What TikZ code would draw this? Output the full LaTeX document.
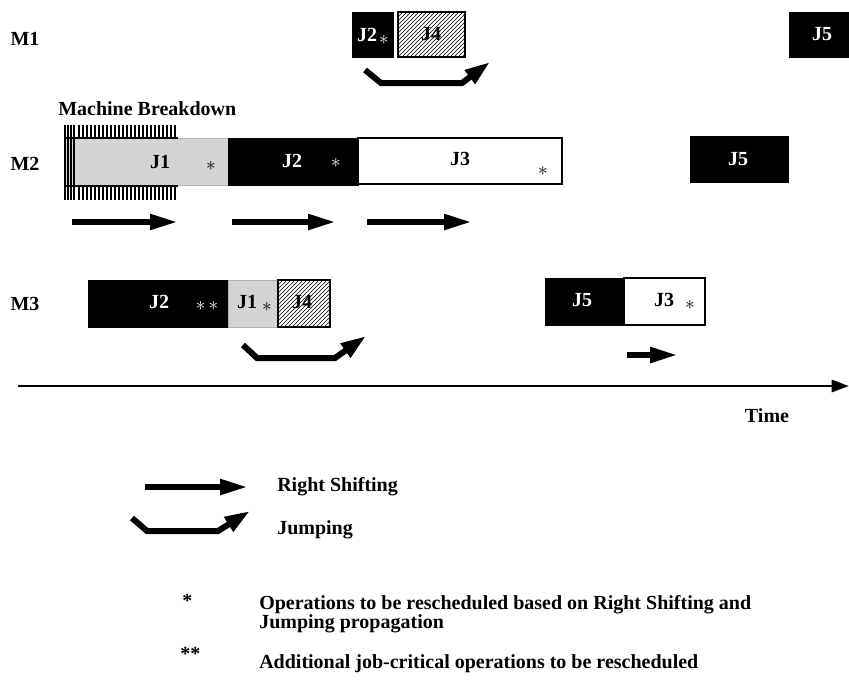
\documentclass[tikz,border=0pt]{standalone}
\usepackage{fontspec}
\setmainfont{Liberation Serif}
\usetikzlibrary{arrows.meta,patterns}

\tikzset{
  joblbl/.style={font=\bfseries\fontsize{15}{18}\selectfont, inner sep=0.75pt},
  legendtxt/.style={font=\bfseries\fontsize{15}{13}\selectfont, inner sep=0.75pt, anchor=west, align=left},
  notetxt/.style={font=\bfseries\fontsize{15}{13}\selectfont, inner sep=0.75pt, anchor=west, align=left},
  starmark/.style={inner sep=0pt, font=\Large},
  darkjob/.style={draw=black, fill=black},
  grayjob/.style={draw=black!30, fill=black!17},
  hatchjob/.style={draw=black, line width=0.9pt, pattern=north east lines},
  whitejob/.style={draw=black, line width=0.9pt, fill=white},
  shiftarrow/.style={line width=4.5pt, -{Triangle[length=21pt,width=11pt]}},
  jumparrow/.style={line width=4.5pt, line join=miter, -{Triangle[length=19pt,width=12pt]}}
}

\begin{document}
\begin{tikzpicture}[x=0.75pt,y=0.75pt,yscale=-1,xscale=1]
\useasboundingbox (0,0) rectangle (849,679);

% machine labels
\node[joblbl] (m1) at (25,39) {M1};
\node[joblbl] (m2) at (25,164) {M2};
\node[joblbl] (m3) at (25,304) {M3};

%------------------------ M1
\draw[darkjob] (352,12) rectangle (393,57);
\node[joblbl, text=white] (m1j2) at (367,35) {J2};
\node[starmark, text=white] (m1j2s) at (384,40) {$\ast$};
\draw[hatchjob] (398,12) rectangle (465,57);
\node[joblbl] (m1j4) at (431,34) {J4};
\draw[darkjob] (789,12) rectangle (849,57);
\node[joblbl, text=white] (m1j5) at (822,34) {J5};
% jump under M1
\draw[jumparrow] (365,70) -- (381,83) -- (462,83) -- (490,62);

%------------------------ M2
\node[joblbl, anchor=west] (brk) at (57,109) {Machine Breakdown};
\draw[grayjob] (64,138) rectangle (228,185);
% breakdown stripes
\foreach \x in {65,68,...,75}
  \draw[black, line width=1.5pt] (\x,125) -- (\x,200);
\foreach \x in {79,83,...,177} {
  \draw[black, line width=1.8pt] (\x,125) -- (\x,138);
  \draw[black, line width=1.8pt] (\x,186) -- (\x,200);
}
\draw[black, line width=1pt] (64,138) -- (178,138);
\draw[black, line width=1pt] (64,186) -- (178,186);
\node[joblbl] (m2j1) at (160,162) {J1};
\node[starmark] (m2j1s) at (211,166) {$\ast$};
\draw[darkjob] (228,138) rectangle (358,185);
\node[joblbl, text=white] (m2j2) at (292,161) {J2};
\node[starmark, text=white] (m2j2s) at (336,163) {$\ast$};
\draw[whitejob] (358,138) rectangle (562,184);
\node[joblbl] (m2j3) at (460,159) {J3};
\node[starmark] (m2j3s) at (543,171) {$\ast$};
\draw[darkjob] (690,136) rectangle (788,182);
\node[joblbl, text=white] (m2j5) at (738,159) {J5};
% right shifts under M2
\draw[shiftarrow] (72,222) -- (178,222);
\draw[shiftarrow] (232,222) -- (336,222);
\draw[shiftarrow] (367,222) -- (472,222);

%------------------------ M3
\draw[darkjob] (88,280) rectangle (228,327);
\node[joblbl, text=white] (m3j2) at (159,302) {J2};
\node[starmark, text=white] (m3j2s) at (207,306) {$\ast\,\ast$};
\draw[grayjob] (228,280) rectangle (277,327);
\node[joblbl] (m3j1) at (247,302) {J1};
\node[starmark] (m3j1s) at (267,307) {$\ast$};
\draw[hatchjob] (278,280) rectangle (330,327);
\node[joblbl] (m3j4) at (302,302) {J4};
\draw[darkjob] (545,278) rectangle (622,325);
\node[joblbl, text=white] (m3j5) at (582,300) {J5};
\draw[whitejob] (624,278) rectangle (705,325);
\node[joblbl] (m3j3) at (664,300) {J3};
\node[starmark] (m3j3s) at (690,305) {$\ast$};
% jump and shift under M3
\draw[jumparrow] (243,345) -- (257,358) -- (335,358) -- (366,336);
\draw[shiftarrow] (627,355) -- (678,355);

%------------------------ time axis
\coordinate (t0) at (18,386);
\coordinate (t1) at (849,386);
\draw[line width=2.2pt, -{Triangle[length=13pt,width=9pt]}] (t0) -- (t1);
\node[joblbl] (time) at (767,416) {Time};

%------------------------ legend
\draw[shiftarrow] (145,487) -- (248,487);
\node[legendtxt] (lrs) at (276,487) {Right Shifting};
\draw[jumparrow] (132,518) -- (147,531) -- (218,531) -- (250,511);
\node[legendtxt] (ljp) at (276,530) {Jumping};
\node[notetxt] (ls1) at (181,601) {*};
\node[notetxt] (ld1) at (258,614) {Operations to be rescheduled based on Right Shifting and\\Jumping propagation};
\node[notetxt] (ls2) at (179,654) {**};
\node[notetxt] (ld2) at (258,664) {Additional job-critical operations to be rescheduled};
\end{tikzpicture}
\end{document}
